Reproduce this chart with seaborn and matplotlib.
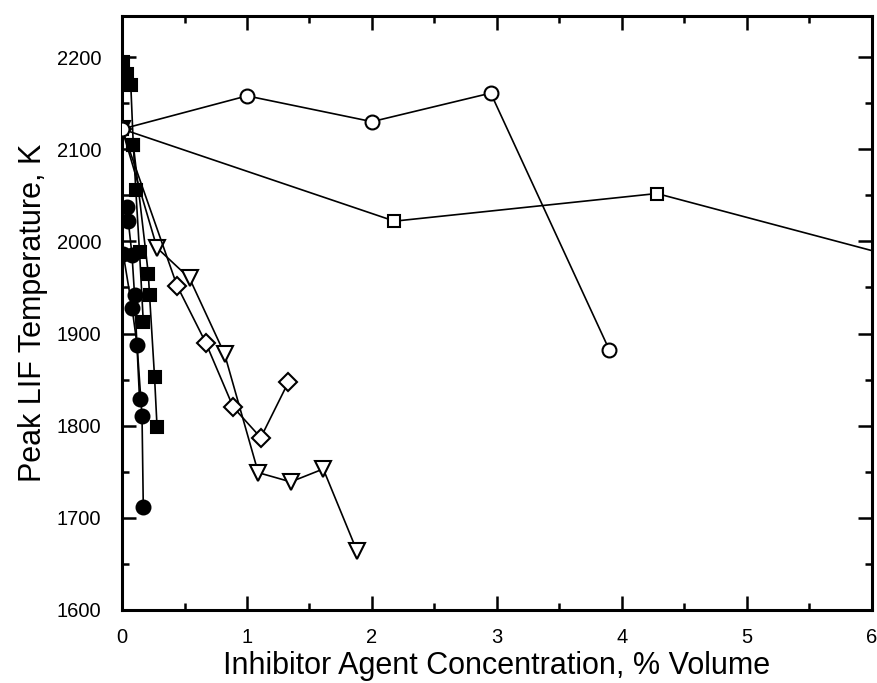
import matplotlib
matplotlib.use("Agg")
import matplotlib.pyplot as plt
import seaborn as sns
from matplotlib.ticker import MultipleLocator

sns.set_theme(style="ticks")
plt.rcParams['font.family'] = ['Liberation Sans', 'DejaVu Sans']

# ---- data (concentration % volume, peak LIF temperature K) ----
open_circle_x = [0.0, 1.0, 2.0, 2.95, 3.9]
open_circle_y = [2122, 2158, 2130, 2161, 1882]

open_square_x = [0.0, 2.18, 4.28, 7.0]
open_square_y = [2122, 2022, 2052, 1954]

open_diamond_x = [0.0, 0.44, 0.67, 0.89, 1.11, 1.33]
open_diamond_y = [2122, 1952, 1890, 1820, 1787, 1847]

open_tri_x = [0.0, 0.28, 0.54, 0.82, 1.09, 1.35, 1.61, 1.88]
open_tri_y = [2122, 1993, 1960, 1878, 1749, 1739, 1753, 1664]

fsq1_x = [0.01, 0.04, 0.07, 0.09, 0.11, 0.14, 0.17]
fsq1_y = [2195, 2182, 2170, 2105, 2056, 1988, 1913]

fsq2_x = [0.09, 0.21, 0.22, 0.26, 0.28]
fsq2_y = [2105, 1965, 1942, 1853, 1799]

fci1_x = [0.04, 0.05, 0.08, 0.10, 0.14]
fci1_y = [2037, 2022, 1985, 1942, 1829]

fci2_x = [0.01, 0.08, 0.12, 0.16, 0.17]
fci2_y = [1986, 1928, 1888, 1810, 1712]

fig = plt.figure(figsize=(8.78, 6.83), dpi=100)
ax = fig.add_axes([0.139, 0.107, 0.854, 0.870])

def series(x, y, marker, filled, ms, z):
    sns.lineplot(x=x, y=y, sort=False, estimator=None, ax=ax, color='black',
                 linewidth=1.2, marker=marker, markersize=ms,
                 markerfacecolor='black' if filled else 'white',
                 markeredgecolor='black', markeredgewidth=1.5, zorder=z,
                 legend=False)

series(open_tri_x, open_tri_y, 'v', False, 11, 3)
series(open_diamond_x, open_diamond_y, 'D', False, 9, 3)
series(open_square_x, open_square_y, 's', False, 9, 4)
series(open_circle_x, open_circle_y, 'o', False, 10, 5)
series(fsq1_x, fsq1_y, 's', True, 9, 6)
series(fsq2_x, fsq2_y, 's', True, 9, 6)
series(fci1_x, fci1_y, 'o', True, 10, 6)
series(fci2_x, fci2_y, 'o', True, 10, 6)

ax.set_xlim(0, 6)
ax.set_ylim(1600, 2245)
ax.xaxis.set_major_locator(MultipleLocator(1))
ax.xaxis.set_minor_locator(MultipleLocator(0.5))
ax.yaxis.set_major_locator(MultipleLocator(100))
ax.yaxis.set_minor_locator(MultipleLocator(50))
ax.tick_params(which='both', direction='in', top=True, right=True, width=1.8,
               colors='black', labelcolor='black')
ax.tick_params(which='major', length=10, labelsize=14.5)
ax.tick_params(axis='y', which='major', pad=15)
ax.tick_params(axis='x', which='major', pad=13)
ax.tick_params(which='minor', length=5)
for s in ax.spines.values():
    s.set_linewidth(2.2)
    s.set_color('black')

ax.set_xlabel('Inhibitor Agent Concentration, % Volume', fontsize=22,
              labelpad=3, color='black')
ax.set_ylabel('Peak LIF Temperature, K', fontsize=22, labelpad=6, color='black')

fig.savefig('out.png', dpi=100)
